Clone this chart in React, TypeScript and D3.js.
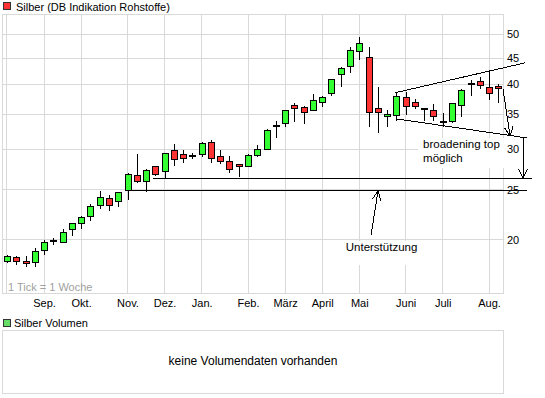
import * as d3 from "d3";

// weekly candles, Monday of each week, Aug 2010 - Aug 2011
const weeks = d3.timeMonday.range(new Date(2010, 7, 2), new Date(2011, 7, 9));

const open = [
  18.13, 18.46, 18.21, 18.05, 19.12, 19.88, 19.82, 20.91, 21.57, 22.16,
  23.37, 24.01, 23.69, 24.88, 26.6, 25.9, 27.69, 27.08, 29.74, 29.21,
  29.05, 29.21, 30.95, 28.95, 28.32, 27.94, 27.81, 29.08, 30.0, 33.2,
  33.54, 36.5, 36.02, 35.54, 36.99, 38.34, 41.73, 43.24, 46.23, 45.01,
  35.86, 34.61, 34.76, 37.66, 36.83, 35.84, 35.54, 33.82, 33.84, 36.34,
  40.07, 40.45, 39.38, 39.56,
];
const high = [
  18.7, 18.62, 18.62, 19.3, 20.0, 20.18, 21.0, 21.48, 22.26, 23.48,
  24.88, 24.44, 24.66, 26.96, 29.34, 27.44, 27.81, 29.34, 30.68, 29.87,
  29.47, 30.95, 31.23, 29.87, 29.08, 28.07, 29.34, 30.54, 32.8, 33.99,
  35.54, 36.83, 36.34, 38.34, 38.0, 40.81, 43.24, 47.27, 49.42, 47.27,
  39.56, 35.7, 38.51, 38.69, 37.49, 36.02, 36.67, 35.23, 36.83, 39.21,
  40.81, 41.36, 42.48, 40.09,
];
const low = [
  18.05, 17.89, 17.73, 17.73, 18.7, 19.56, 19.73, 20.36, 21.0, 21.77,
  22.96, 22.76, 23.17, 23.9, 25.78, 24.77, 26.6, 26.36, 27.81, 28.19,
  28.69, 28.95, 28.19, 28.07, 26.96, 26.48, 27.69, 28.95, 29.87, 31.51,
  33.1, 33.84, 33.54, 35.54, 36.18, 38.0, 39.56, 42.1, 44.61, 33.1,
  32.22, 33.1, 33.99, 34.92, 35.86, 33.99, 33.99, 33.1, 33.69, 34.61,
  38.0, 39.21, 37.33, 36.83,
];
const close = [
  18.54, 18.13, 17.97, 19.04, 19.82, 19.93, 20.72, 21.48, 22.06, 23.17,
  24.22, 23.27, 24.66, 26.72, 25.9, 27.2, 26.72, 29.34, 28.57, 28.82,
  29.1, 30.68, 28.82, 28.32, 27.44, 27.69, 29.08, 30.0, 32.51, 33.25,
  35.54, 35.86, 35.23, 37.16, 37.66, 40.81, 42.86, 46.44, 48.12, 35.23,
  35.23, 34.92, 37.83, 36.18, 36.18, 35.88, 34.61, 33.86, 36.67, 38.86,
  40.11, 39.73, 38.34, 39.21,
];

const priceTicks = [20, 25, 30, 35, 40, 45, 50];
const monthStarts = d3.timeMonth.range(new Date(2010, 7, 1), new Date(2011, 7, 2));
const monthLabels = ["", "Sep.", "Okt.", "Nov.", "Dez.", "Jan.", "Feb.", "März", "April", "Mai", "Juni", "Juli", "Aug."];

// drawn annotations, [week index, price]
const broadUpper = [[41.86, 38.55], [55.88, 44.05]];
const broadLower = [[42.07, 34.3], [56.1, 31.51]];
const targetArrow = [[53.5, 39.21], [54.26, 31.79]];
const downArrow = [[55.66, 31.65], [55.66, 26.36]];
const supportUpper = [[15.75, 26.36], [56.63, 26.36]];
const supportLower = [[12.94, 24.88], [56.1, 24.88]];
const supportArrow = [[39.27, 20.45], [40.02, 24.88]];
const broadLabel = [44.88, 30.13];
const supportLabel = [40.4, 19.04];

const FONT = "'Liberation Sans', Arial, sans-serif";
const GRID = "#d9d9d9";
const UP = "#33ff33";
const DOWN = "#ff3333";

const X0 = 3, X1 = 503, Y0 = 14, Y1 = 293;
const snap = (v: number) => Math.floor(v) + 0.5;

export default function App() {
  const x = d3.scaleLinear().domain([-0.43, 53.5]).range([X0, X1]);
  const y = d3.scaleLog().domain([15.79, 54.76]).range([Y1, Y0]);

  const monthIdx = monthStarts.map((m) => {
    const i = weeks.findIndex((w) => +w === +d3.timeMonday.floor(m));
    return i < 0 ? 0 : i;
  });

  const pt = (d: number[]) => [x(d[0]), y(d[1])];

  const line = (d: number[][], key: string) => {
    const [a, b] = d.map(pt);
    return <line key={key} x1={a[0]} y1={a[1]} x2={b[0]} y2={b[1]} stroke="#000" shapeRendering="crispEdges" />;
  };
  const hline = (d: number[][], key: string) => {
    const yy = snap(y(d[0][1]));
    return <line key={key} x1={x(d[0][0])} x2={x(d[1][0])} y1={yy} y2={yy} stroke="#000" shapeRendering="crispEdges" />;
  };
  const arrow = (d: number[][], key: string) => {
    const [a, b] = d.map(pt);
    const ang = Math.atan2(b[1] - a[1], b[0] - a[0]);
    const len = 10, spread = 0.45;
    const h1 = [b[0] - len * Math.cos(ang - spread), b[1] - len * Math.sin(ang - spread)];
    const h2 = [b[0] - len * Math.cos(ang + spread), b[1] - len * Math.sin(ang + spread)];
    return (
      <g key={key} stroke="#000" fill="none" shapeRendering="crispEdges">
        <line x1={a[0]} y1={a[1]} x2={b[0]} y2={b[1]} />
        <polyline points={`${h1[0]},${h1[1]} ${b[0]},${b[1]} ${h2[0]},${h2[1]}`} />
      </g>
    );
  };

  const bl = pt(broadLabel);
  const sl = pt(supportLabel);

  return (
    <svg width={545} height={398} style={{ position: "absolute", left: 0, top: 0, background: "#fff" }} fontFamily={FONT}>
      {/* legend */}
      <rect x={3.5} y={2.5} width={7} height={7} fill={DOWN} stroke="#333" />
      <text x={16} y={10.5} fontSize={11}>Silber (DB Indikation Rohstoffe)</text>

      {/* grid */}
      <g stroke={GRID} shapeRendering="crispEdges">
        {priceTicks.map((t) => (
          <line key={t} x1={X0} x2={X1} y1={snap(y(t))} y2={snap(y(t))} />
        ))}
        {monthIdx.map((i, k) => (
          <line key={k} x1={snap(x(i))} x2={snap(x(i))} y1={Y0} y2={Y1} />
        ))}
        <rect x={X0 - 0.5} y={Y0 + 0.5} width={X1 - X0 + 1} height={Y1 - Y0} fill="none" />
      </g>
      <text x={8} y={291} fontSize={11} fill="#a0a0a0">1 Tick = 1 Woche</text>

      {/* candles */}
      <g shapeRendering="crispEdges">
        {weeks.map((w, i) => {
          const cx = Math.round(x(i));
          const o = open[i], c = close[i];
          const top = snap(y(Math.max(o, c)));
          const bot = snap(y(Math.min(o, c)));
          return (
            <g key={i}>
              <line x1={cx + 0.5} x2={cx + 0.5} y1={y(high[i])} y2={y(low[i])} stroke="#000" />
              <rect x={cx - 2.5} y={top} width={6} height={Math.max(0, bot - top)} fill={c >= o ? UP : DOWN} stroke="#000" />
            </g>
          );
        })}
      </g>

      {/* annotation label boxes */}
      <rect x={bl[0] - 5} y={bl[1] - 10} width={87} height={30} fill="#fff" />
      <rect x={sl[0] - 39} y={sl[1] - 10} width={78} height={24} fill="#fff" />
      <text x={bl[0]} y={bl[1]} fontSize={11.5}>
        <tspan x={bl[0]}>broadening top</tspan>
        <tspan x={bl[0]} dy={13.5}>möglich</tspan>
      </text>
      <text x={sl[0]} y={sl[1]} fontSize={11.5} textAnchor="middle">Unterstützung</text>

      {/* drawn lines */}
      {line(broadUpper, "bu")}
      {line(broadLower, "bl")}
      {arrow(targetArrow, "ta")}
      {arrow(downArrow, "da")}
      {hline(supportUpper, "su")}
      {hline(supportLower, "sl")}
      {arrow(supportArrow, "sa")}

      {/* right axis */}
      {priceTicks.map((t) => (
        <text key={t} x={507} y={y(t) + 4} fontSize={11}>{t}</text>
      ))}

      {/* month labels */}
      {monthIdx.map((i, k) =>
        monthLabels[k] ? (
          <text key={k} x={x(i) + 0.5} y={307} fontSize={11} textAnchor="middle">{monthLabels[k]}</text>
        ) : null
      )}

      {/* volume panel */}
      <rect x={3.5} y={319.5} width={7} height={7} fill="#66dd66" stroke="#333" />
      <text x={14} y={327} fontSize={11}>Silber Volumen</text>
      <rect x={X0 - 0.5} y={330.5} width={X1 - X0 + 1} height={63} fill="none" stroke={GRID} shapeRendering="crispEdges" />
      <text x={(X0 + X1) / 2} y={365} fontSize={12} textAnchor="middle">keine Volumendaten vorhanden</text>
    </svg>
  );
}
